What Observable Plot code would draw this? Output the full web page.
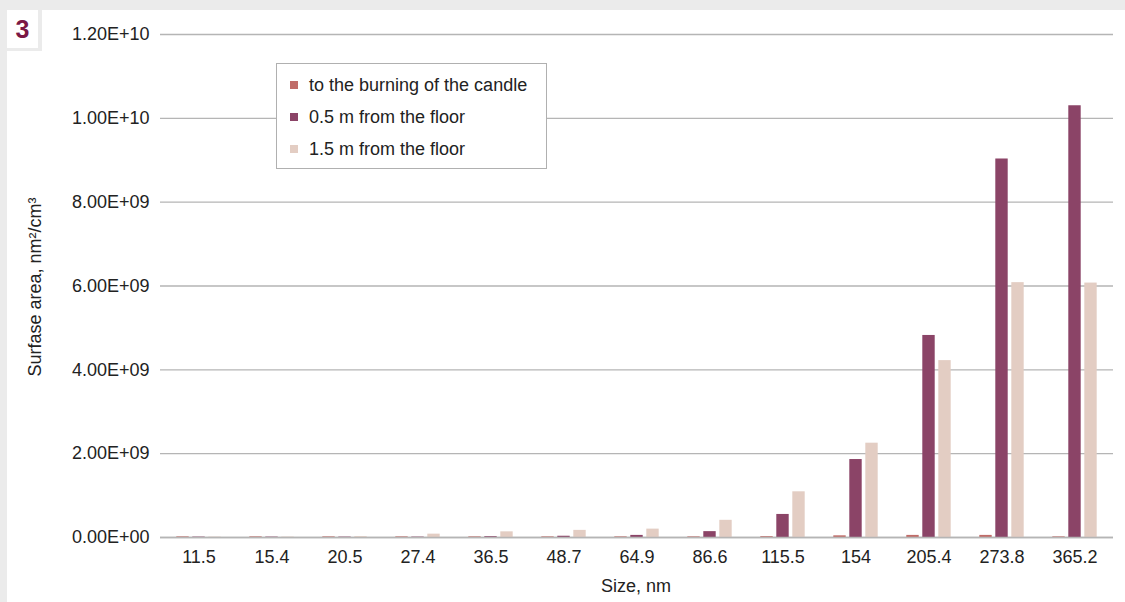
<!DOCTYPE html>
<html>
<head>
<meta charset="utf-8">
<script src="https://cdn.jsdelivr.net/npm/d3@7"></script>
<script src="https://cdn.jsdelivr.net/npm/@observablehq/plot@0.6"></script>
<style>
  html, body { margin: 0; padding: 0; }
  body { width: 1125px; height: 602px; overflow: hidden; background: #ebebeb; position: relative;
         font-family: "Liberation Sans", Arial, Helvetica, sans-serif; color: #222; }
  .abs { position: absolute; }
  #panel { left: 7px; top: 10px; right: 0; bottom: 0; background: #fff; }
  #stripV { left: 38px; top: 10px; width: 4px; height: 41px; background: #ebebeb; }
  #stripH { left: 7px; top: 48px; width: 35px; height: 3px; background: #ebebeb; }
  #num { left: 7px; top: 10px; width: 31px; height: 38px; line-height: 38px; text-align: center;
         font-weight: bold; font-size: 25px; color: #7b1845; }
  #chart { left: 0; top: 0; }
  #legend { left: 276px; top: 63px; width: 271px; height: 106px; box-sizing: border-box;
            border: 1.5px solid #b0b0b0; background: #fff; font-size: 18px; }
  .row { position: absolute; left: 0; height: 20px; line-height: 20px; white-space: nowrap; }
  .sw { position: absolute; left: 13px; top: 6px; width: 8px; height: 8px; }
  .lt { position: absolute; left: 32px; top: 0; }
  #ylab { left: 35px; top: 287px; transform: translate(-50%, -50%) rotate(-90deg); white-space: nowrap; font-size: 18px; }
  #xlab { left: 636px; top: 586px; transform: translate(-50%, -50%); white-space: nowrap; font-size: 18px; }
</style>
</head>
<body>
<div id="panel" class="abs"></div>
<div id="stripV" class="abs"></div>
<div id="stripH" class="abs"></div>
<div id="num" class="abs">3</div>
<div id="chart" class="abs"></div>
<div id="legend" class="abs"></div>
<div id="ylab" class="abs">Surfase area, nm²/cm³</div>
<div id="xlab" class="abs">Size, nm</div>
<script>
// ---- data ----
const sizes = ["11.5","15.4","20.5","27.4","36.5","48.7","64.9","86.6","115.5","154","205.4","273.8","365.2"];
const seriesNames = ["to the burning of the candle","0.5 m from the floor","1.5 m from the floor"];
const candle  = [0.015e9,0.015e9,0.015e9,0.015e9,0.015e9,0.015e9,0.015e9,0.015e9,0.02e9,0.04e9,0.05e9,0.05e9,0.015e9];
const floor05 = [0.01e9,0.01e9,0.01e9,0.01e9,0.02e9,0.03e9,0.05e9,0.14e9,0.55e9,1.86e9,4.82e9,9.03e9,10.30e9];
const floor15 = [0.01e9,0.01e9,0.02e9,0.08e9,0.135e9,0.17e9,0.20e9,0.41e9,1.09e9,2.25e9,4.22e9,6.08e9,6.07e9];
const yTicks = [0, 2e9, 4e9, 6e9, 8e9, 1e10, 1.2e10];
const colors = ["#c06c68", "#8b4467", "#e3cdc3"];

const seriesValues = [candle, floor05, floor15];
const rows = seriesValues.map((vals, s) => sizes.map((size, i) => ({size, series: seriesNames[s], value: vals[i]})));

function sciFmt(d) {
  const [m, e] = d.toExponential(2).split("e");
  const sign = e[0] === "-" ? "-" : "+";
  const digits = e.replace(/^[+-]/, "").padStart(2, "0");
  return m + "E" + sign + digits;
}

const offsets = [-16, 0, 16];
const gridColor = "#b5b5b5";

const chart = Plot.plot({
  width: 1125,
  height: 602,
  marginLeft: 160,
  marginRight: 12,
  marginTop: 34,
  marginBottom: 65,
  style: {background: "transparent", fontSize: "18px", fontFamily: "'Liberation Sans', Arial, Helvetica, sans-serif", color: "#222"},
  x: {type: "band", domain: sizes, padding: 0},
  y: {domain: [0, 1.2e10]},
  marks: [
    Plot.gridY(yTicks, {stroke: gridColor, strokeOpacity: 1, strokeWidth: 1.4}),
    Plot.axisY(yTicks, {tickSize: 0, tickPadding: 11, tickFormat: sciFmt, label: null}),
    Plot.axisX({tickSize: 0, tickPadding: 13, label: null}),
    ...rows.map((data, s) => Plot.barY(data, {
      x: "size", y: "value", fill: colors[s], dx: offsets[s], insetLeft: 30.3, insetRight: 30.3
    })),
    Plot.ruleY([0], {stroke: gridColor, strokeWidth: 1.6})
  ]
});
document.getElementById("chart").appendChild(chart);

// legend
const legend = document.getElementById("legend");
const rowTops = [11, 43, 75];
seriesNames.forEach((name, i) => {
  const r = document.createElement("div");
  r.className = "row";
  r.style.top = rowTops[i] + "px";
  const sw = document.createElement("span");
  sw.className = "sw";
  sw.style.background = colors[i];
  const t = document.createElement("span");
  t.className = "lt";
  t.textContent = name;
  r.appendChild(sw); r.appendChild(t);
  legend.appendChild(r);
});
</script>
</body>
</html>
